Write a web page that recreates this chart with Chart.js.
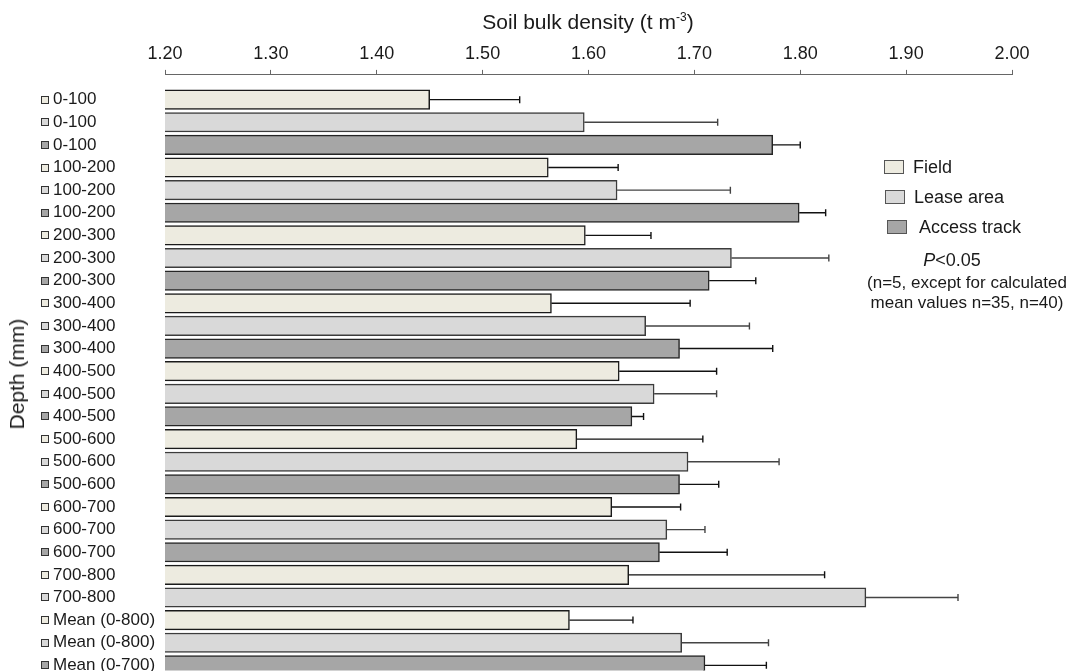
<!DOCTYPE html>
<html>
<head>
<meta charset="utf-8">
<title>Soil bulk density by depth</title>
<script src="https://cdn.jsdelivr.net/npm/chart.js@4.4.0/dist/chart.umd.min.js"></script>
<style>
  body { margin: 0; background: #fff; font-family: "Liberation Sans", Arial, sans-serif; color: #1a1a1a; }
  .wrap { position: relative; width: 1069px; height: 671px; overflow: hidden; }
  .txt { position: absolute; white-space: nowrap; line-height: 20px; }
  .title { left: 588px; top: 22px; font-size: 21px; transform: translate(-50%, -50%); }
  .title sup { font-size: 12px; line-height: 0; vertical-align: 8px; }
  .ylabel { left: 17px; top: 374px; font-size: 21px; transform: translate(-50%, -50%) rotate(-90deg); }
  .swatch { position: absolute; width: 18px; height: 12px; border: 1px solid #555; }
  .leg { font-size: 18px; }
  .pval { left: 952px; top: 250px; font-size: 18px; transform: translateX(-50%); }
  .note { left: 967px; top: 273px; font-size: 17px; text-align: center; transform: translateX(-50%); }
</style>
</head>
<body>
<div class="wrap" id="wrap">
  <canvas id="density-chart" width="1069" height="671"></canvas>
  <div class="txt title">Soil bulk density (t m<sup>-3</sup>)</div>
  <div class="txt ylabel">Depth (mm)</div>
  <div class="txt pval"><i>P</i>&lt;0.05</div>
  <div class="txt note">(n=5, except for calculated<br>mean values n=35, n=40)</div>
</div>

<script>
const seriesNames = ["Field", "Lease area", "Access track"];
const depthLabels = ["0-100", "100-200", "200-300", "300-400", "400-500", "500-600", "600-700", "700-800"];

// mean bulk density per depth (access track has no 700-800 sample)
const fieldMean = [1.450, 1.562, 1.597, 1.565, 1.629, 1.589, 1.622, 1.638];
const fieldErr = [0.085, 0.066, 0.062, 0.131, 0.092, 0.119, 0.065, 0.185];
const leaseMean = [1.596, 1.627, 1.735, 1.654, 1.662, 1.694, 1.674, 1.862];
const leaseErr = [0.126, 0.107, 0.092, 0.098, 0.059, 0.086, 0.036, 0.087];
const accessMean = [1.774, 1.799, 1.714, 1.686, 1.641, 1.686, 1.667];
const accessErr = [0.026, 0.025, 0.044, 0.088, 0.011, 0.037, 0.064];

// calculated means over the whole profile
const meanLabels = ["Mean (0-800)", "Mean (0-800)", "Mean (0-700)"];
const profileMean = [1.582, 1.688, 1.710];
const profileErr = [0.060, 0.082, 0.058];

const fills = ["#EDEBE0", "#D9D9D9", "#A6A6A6"];
const borders = ["#1a1a1a", "#3c3c3c", "#262626"];
const errColors = ["#111", "#444", "#111"];
const FONT = '"Liberation Sans", Arial, sans-serif';

// one row per bar, top to bottom
const rows = [];
depthLabels.forEach((d, i) => {
  rows.push({ label: d, s: 0, v: fieldMean[i], e: fieldErr[i] });
  rows.push({ label: d, s: 1, v: leaseMean[i], e: leaseErr[i] });
  if (i < accessMean.length) rows.push({ label: d, s: 2, v: accessMean[i], e: accessErr[i] });
});
meanLabels.forEach((m, s) => rows.push({ label: m, s: s, v: profileMean[s], e: profileErr[s] }));
const rowLabels = rows.map((r) => r.label);

const datasets = seriesNames.map((name, s) => {
  const mine = rows.map((r, idx) => ({ r, idx })).filter((o) => o.r.s === s);
  return {
    label: name,
    data: mine.map((o) => ({ x: o.r.v, y: o.idx })),
    errors: mine.map((o) => o.r.e),
    backgroundColor: fills[s],
    borderColor: borders[s],
    borderWidth: 1.5,
    borderSkipped: false,
    barThickness: 19.5,
    grouped: false,
  };
});

// legend boxes on the right
const wrap = document.getElementById("wrap");
const legendPos = [[884, 160, 913], [885, 190, 914], [887, 220, 919]];
seriesNames.forEach((name, s) => {
  const [sx, sy, tx] = legendPos[s];
  const sw = document.createElement("div");
  sw.className = "swatch";
  sw.style.cssText = `left:${sx}px;top:${sy}px;background:${fills[s]}`;
  wrap.appendChild(sw);
  const t = document.createElement("div");
  t.className = "txt leg";
  t.style.cssText = `left:${tx}px;top:${sy - 3}px`;
  t.textContent = name;
  wrap.appendChild(t);
});

const errorBars = {
  id: "errorBars",
  afterDatasetsDraw(chart) {
    const ctx = chart.ctx;
    const xs = chart.scales.x;
    chart.data.datasets.forEach((ds, di) => {
      const meta = chart.getDatasetMeta(di);
      ctx.save();
      ctx.strokeStyle = errColors[di];
      ctx.lineWidth = 1.4;
      meta.data.forEach((bar, i) => {
        const end = xs.getPixelForValue(ds.data[i].x + ds.errors[i]);
        ctx.beginPath();
        ctx.moveTo(bar.x, bar.y);
        ctx.lineTo(end, bar.y);
        ctx.moveTo(end, bar.y - 3.5);
        ctx.lineTo(end, bar.y + 3.5);
        ctx.stroke();
      });
      ctx.restore();
    });
  },
};

// little coloured square in front of each depth label
const labelSquares = {
  id: "labelSquares",
  afterDraw(chart) {
    const ctx = chart.ctx;
    const ys = chart.scales.y;
    ctx.save();
    rows.forEach((r, idx) => {
      const y = Math.round(ys.getPixelForValue(idx));
      const x = ys.left - 12;
      ctx.fillStyle = fills[r.s];
      ctx.fillRect(x, y - 4, 8, 8);
      ctx.strokeStyle = "#333";
      ctx.lineWidth = 1;
      ctx.strokeRect(x + 0.5, y - 3.5, 7, 7);
    });
    ctx.restore();
  },
};

new Chart(document.getElementById("density-chart"), {
  type: "bar",
  data: { datasets: datasets },
  options: {
    responsive: false,
    animation: false,
    indexAxis: "y",
    layout: { padding: { left: 53, right: 57, top: 37.5, bottom: 0 } },
    plugins: { legend: { display: false }, tooltip: { enabled: false } },
    scales: {
      x: {
        type: "linear",
        position: "top",
        min: 1.2,
        max: 2.0,
        ticks: {
          stepSize: 0.1,
          padding: 5.4,
          color: "#1a1a1a",
          font: { family: FONT, size: 18 },
          callback: (v) => v.toFixed(2),
        },
        grid: { drawOnChartArea: false, tickLength: 5, color: "#666" },
        border: { color: "#666", width: 1 },
      },
      y: {
        type: "linear",
        bounds: "data",
        offset: false,
        reverse: true,
        min: -1.093,
        max: 25.23,
        ticks: {
          autoSkip: false,
          crossAlign: "far",
          padding: 0,
          color: "#1a1a1a",
          // tiny line height so the labels don't push the plot area in
          font: { family: FONT, size: 17, lineHeight: 0.05 },
          callback: (v) => rowLabels[Math.round(v)] || "",
        },
        afterBuildTicks(scale) {
          // one tick per bar row
          scale.ticks = rowLabels.map((_, i) => ({ value: i }));
        },
        grid: { display: false, offset: false },
        border: { display: false },
        afterFit(scale) {
          scale.width = 112;
        },
      },
    },
  },
  plugins: [errorBars, labelSquares],
});
</script>
</body>
</html>
